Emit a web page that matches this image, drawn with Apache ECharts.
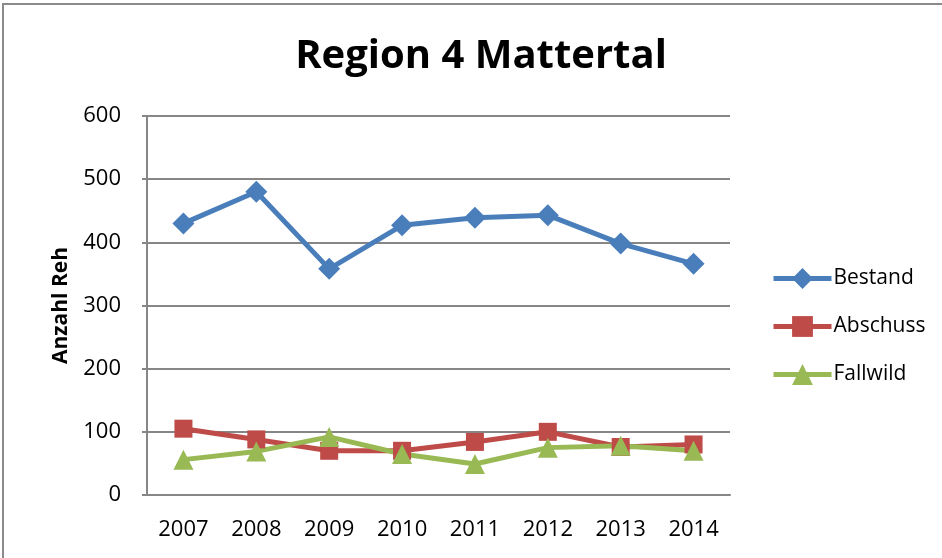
<!DOCTYPE html>
<html>
<head>
<meta charset="utf-8">
<script src="https://cdn.jsdelivr.net/npm/echarts@6/dist/echarts.min.js"></script>
<style>
  html, body { margin: 0; padding: 0; background: #fff; }
  #chart { width: 942px; height: 558px; }
</style>
</head>
<body>
<div id="chart"></div>
<script>
// Jahre und Werte
const years = ['2007', '2008', '2009', '2010', '2011', '2012', '2013', '2014'];
const bestand = [430, 480, 358, 427, 439, 443, 398, 366];
const abschuss = [105, 88, 70, 70, 84, 100, 76, 80];
const fallwild = [56, 69, 92, 65, 49, 75, 78, 70];

const FONT = '"Open Sans", "Liberation Sans", sans-serif';

const chart = echarts.init(document.getElementById('chart'));

function line(name, data, color, symbol, size) {
  return {
    name,
    type: 'line',
    data,
    symbol,
    symbolSize: size,
    lineStyle: { color, width: 5 },
    itemStyle: { color },
    emphasis: { disabled: true },
  };
}

chart.setOption({
  animation: false,
  title: {
    text: 'Region 4 Mattertal',
    left: 476,
    top: 32,
    textAlign: 'center',
    textStyle: { fontFamily: FONT, fontSize: 40, fontWeight: 'bold', color: '#000' },
  },
  graphic: [
    {
      type: 'rect',
      shape: { x: 3, y: 4, width: 1000, height: 700 },
      style: { fill: 'none', stroke: '#8a8a8a', lineWidth: 2 },
      silent: true,
    },
  ],
  legend: {
    orient: 'vertical',
    left: 766,
    top: 263,
    itemGap: 27,
    itemWidth: 58,
    itemHeight: 26,
    lineStyle: { width: 5 },
    textStyle: { fontFamily: FONT, fontSize: 21, color: '#000', padding: [0, 0, 0, -3] },
    data: ['Bestand', 'Abschuss', 'Fallwild'],
  },
  grid: { left: 147, right: 212, top: 116, bottom: 63 },
  xAxis: {
    type: 'category',
    data: years,
    boundaryGap: true,
    axisLine: { lineStyle: { color: '#868686', width: 2 } },
    axisTick: { show: false },
    axisLabel: { fontFamily: FONT, fontSize: 22, color: '#000', margin: 24 },
  },
  yAxis: {
    type: 'value',
    min: 0,
    max: 600,
    interval: 100,
    name: 'Anzahl Reh',
    nameLocation: 'middle',
    nameGap: 75,
    nameTextStyle: { fontFamily: FONT, fontSize: 21, fontWeight: 'bold', color: '#000' },
    axisLine: { show: true, lineStyle: { color: '#868686', width: 2 } },
    axisTick: { show: true, length: 5, lineStyle: { color: '#868686', width: 2 } },
    axisLabel: { fontFamily: FONT, fontSize: 22, color: '#000', margin: 26 },
    splitLine: { lineStyle: { color: '#868686', width: 2 } },
  },
  series: [
    line('Bestand', bestand, '#4a7ebb', 'diamond', 22),
    line('Abschuss', abschuss, '#be4b48', 'rect', 18),
    line('Fallwild', fallwild, '#98b954', 'triangle', 20),
  ],
});
</script>
</body>
</html>
